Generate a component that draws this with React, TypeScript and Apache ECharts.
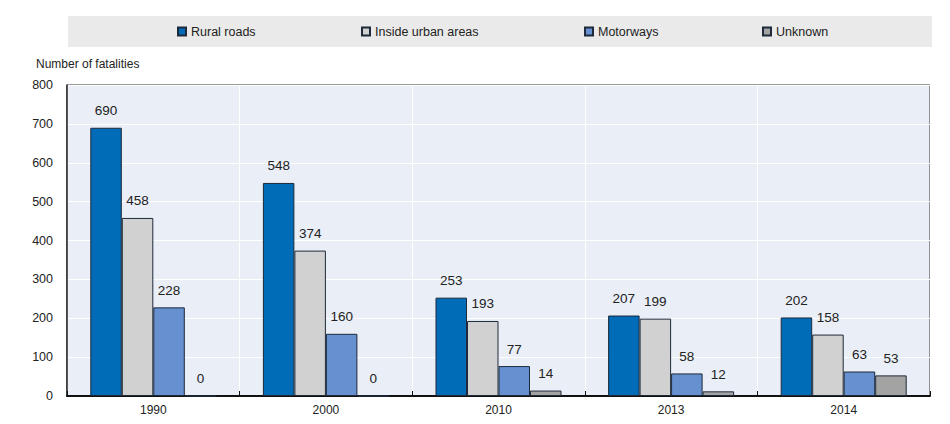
import React, { useEffect, useRef } from "react";
import * as echarts from "echarts";

const categories = ["1990", "2000", "2010", "2013", "2014"];
const seriesNames = ["Rural roads", "Inside urban areas", "Motorways", "Unknown"];
const ruralRoads = [690, 548, 253, 207, 202];
const insideUrban = [458, 374, 193, 199, 158];
const motorways = [228, 160, 77, 58, 63];
const unknown = [0, 0, 14, 12, 53];
const yTicks = [0, 100, 200, 300, 400, 500, 600, 700, 800];

const colors = ["#006BB6", "#D1D1D1", "#6690CF", "#A3A3A3"];
const FONT = "'Liberation Sans Narrow', 'Arial Narrow', 'Liberation Sans', Arial, sans-serif";
const legendLefts = [177, 361, 584, 762];

export default function App() {
  const ref = useRef<HTMLDivElement>(null);
  useEffect(() => {
    if (!ref.current) return;
    const chart = echarts.init(ref.current, undefined, { renderer: "svg" });
    const values = [ruralRoads, insideUrban, motorways, unknown];
    const option: any = {
      animation: false,
      textStyle: { fontFamily: FONT },
      graphic: [
        {
          type: "rect",
          shape: { x: 68, y: 16, width: 864, height: 31 },
          style: { fill: "#EAEAEA" },
          z: -10,
        },
        {
          type: "text",
          left: 36,
          top: 58,
          style: { text: "Number of fatalities", fontFamily: FONT, fontSize: 12, fill: "#222" },
        },
      ],
      legend: seriesNames.map((n, i) => ({
        data: [n],
        left: legendLefts[i],
        top: 25,
        padding: 0,
        itemWidth: 8,
        itemHeight: 8,
        icon: "rect",
        textStyle: { fontFamily: FONT, fontSize: 12.5, color: "#222" },
        selectedMode: false,
      })),
      grid: {
        left: 67,
        right: 20,
        top: 85,
        bottom: 28,
        show: true,
        backgroundColor: "#E9EEF7",
        borderColor: "#333",
        borderWidth: 1,
      },
      xAxis: {
        type: "category",
        data: categories,
        axisLine: { lineStyle: { color: "#111", width: 2 } },
        axisTick: { show: true, inside: true, length: 5, lineStyle: { color: "#111" } },
        axisLabel: { fontFamily: FONT, fontSize: 12, color: "#222", margin: 8 },
        splitLine: { show: true, interval: 0, lineStyle: { color: "#fff", width: 1 } },
      },
      yAxis: {
        type: "value",
        min: yTicks[0],
        max: yTicks[yTicks.length - 1],
        interval: 100,
        axisLine: { show: true, lineStyle: { color: "#222", width: 1.5 } },
        axisTick: { show: false },
        axisLabel: { fontFamily: FONT, fontSize: 12.5, color: "#222", margin: 14 },
        splitLine: { show: true, lineStyle: { color: "#fff", width: 1.2 } },
      },
      series: seriesNames.map((n, i) => ({
        name: n,
        type: "bar",
        data: values[i],
        barGap: "0%",
        barCategoryGap: "27%",
        itemStyle: { color: colors[i], borderColor: "#1E2A3A", borderWidth: 1 },
        label: {
          show: true,
          position: "top",
          distance: 10,
          fontFamily: FONT,
          fontSize: 13.5,
          color: "#222",
        },
      })),
    };
    chart.setOption(option);
    return () => chart.dispose();
  }, []);
  return <div ref={ref} style={{ width: 950, height: 424, margin: -8 }} />;
}
